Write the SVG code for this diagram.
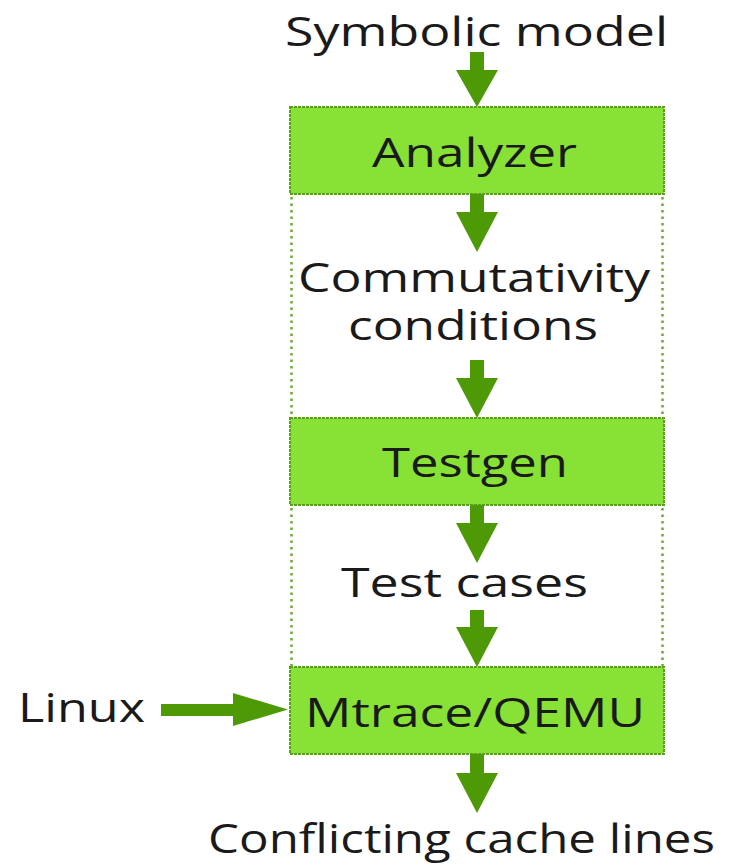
<svg xmlns="http://www.w3.org/2000/svg" width="754" height="866" viewBox="0 0 754 866">
<style>
.box{fill:#88e236;stroke:#5a9f1c;stroke-width:2;stroke-dasharray:3 1}
.dot{stroke:#6aaa34;stroke-width:2.5;stroke-dasharray:2.5 4;fill:none}
.arr{fill:#4e9a06}
text{font-family:"Open Sans","Noto Sans","DejaVu Sans",sans-serif;font-size:41px;fill:#1a1a1a;text-anchor:middle}
</style>
<rect width="754" height="866" fill="#ffffff"/>
<g id="frames">
<line class="dot" x1="291.5" y1="197" x2="291.5" y2="418"/>
<line class="dot" x1="662.5" y1="197" x2="662.5" y2="418"/>
<line class="dot" x1="291.5" y1="508" x2="291.5" y2="667"/>
<line class="dot" x1="662.5" y1="508" x2="662.5" y2="667"/>
</g>
<g id="symbolic-model"><text x="476.5" y="46" textLength="383" lengthAdjust="spacingAndGlyphs">Symbolic model</text></g>
<g id="analyzer"><rect class="box" x="290" y="107" width="374" height="87"/><text x="474.5" y="167" textLength="205" lengthAdjust="spacingAndGlyphs">Analyzer</text></g>
<g id="commutativity-conditions"><text x="474" y="292" textLength="352" lengthAdjust="spacingAndGlyphs">Commutativity</text><text x="473" y="340" textLength="250" lengthAdjust="spacingAndGlyphs">conditions</text></g>
<g id="testgen"><rect class="box" x="290" y="418" width="374" height="87"/><text x="475" y="477" textLength="186" lengthAdjust="spacingAndGlyphs">Testgen</text></g>
<g id="test-cases"><text x="464.5" y="597" textLength="247" lengthAdjust="spacingAndGlyphs">Test cases</text></g>
<g id="mtrace-qemu"><rect class="box" x="290" y="667" width="374" height="87"/><text x="475" y="727" textLength="340" lengthAdjust="spacingAndGlyphs">Mtrace/QEMU</text></g>
<g id="linux"><text x="81.5" y="722" textLength="127" lengthAdjust="spacingAndGlyphs">Linux</text></g>
<g id="conflicting-cache-lines"><text x="461.5" y="853" textLength="507" lengthAdjust="spacingAndGlyphs">Conflicting cache lines</text></g>
<g id="connectors">
<polygon class="arr" points="470,52 484,52 484,70 498,70 477,107 456,70 470,70"/>
<polygon class="arr" points="470,194 484,194 484,212 498,212 477,252 456,212 470,212"/>
<polygon class="arr" points="470,360 484,360 484,378 498,378 477,418 456,378 470,378"/>
<polygon class="arr" points="470,505 484,505 484,523 498,523 477,563 456,523 470,523"/>
<polygon class="arr" points="470,610 484,610 484,627 498,627 477,667 456,627 470,627"/>
<polygon class="arr" points="470,754 484,754 484,773 498,773 477,813 456,773 470,773"/>
<polygon class="arr" points="161,704 233,704 233,693 288,709.5 233,726 233,716 161,716"/>
</g>
</svg>
